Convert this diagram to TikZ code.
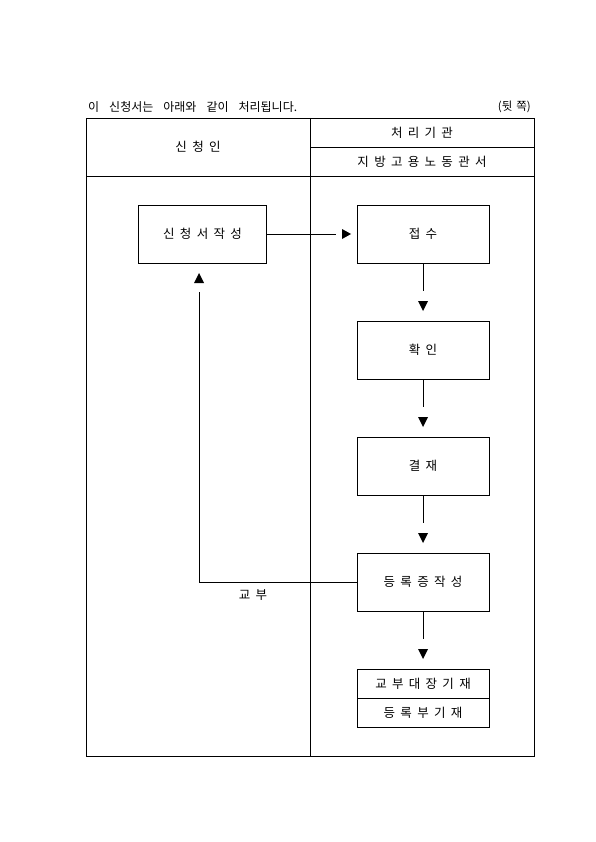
\documentclass[tikz,border=0pt]{standalone}
\usepackage{fontspec}
\newfontfamily\krfont{Noto Sans CJK KR}
\begin{document}
\begin{tikzpicture}[x=1pt,y=-1pt,
  frame/.style={line width=0.7pt},
  lbl/.style={font={\krfont\fontsize{12.5}{14}\selectfont\spaceskip=5.3pt\relax}, inner sep=0pt},
  ttl/.style={font={\krfont\fontsize{12}{14}\selectfont\spaceskip=10pt\relax}, inner sep=0pt},
  stepbox/.style={draw, line width=0.7pt, minimum width=132pt, minimum height=58pt, inner sep=0pt, font={\krfont\fontsize{12.5}{14}\selectfont\spaceskip=5.3pt\relax}},
  halfbox/.style={stepbox, minimum height=29pt},
  flow/.style={line width=0.7pt},
  head/.style={fill=black}
]
\useasboundingbox (0,0) rectangle (595,842);
% title line
\node[ttl, anchor=west] (title) at (88,107) {이 신청서는 아래와 같이 처리됩니다.};
\node[ttl, anchor=east, font={\krfont\fontsize{11.5}{13}\selectfont\spaceskip=4pt\relax}] (side) at (531,107) {(뒷 쪽)};
% table frame
\draw[frame] (86,118) rectangle (534,756);
\draw[frame] (310,118) -- (310,756);
\draw[frame] (86,176.5) -- (534,176.5);
\draw[frame] (310,147.3) -- (534,147.3);
\node[lbl] (hA) at (198,147) {신 청 인};
\node[lbl] (hB) at (422,133) {처 리 기 관};
\node[lbl] (hC) at (422,162) {지 방 고 용 노 동 관 서};
% boxes
\node[stepbox, minimum width=128.5pt] (apply) at (202.5,234) {신 청 서 작 성};
\node[stepbox] (recv) at (423,234) {접 수};
\node[stepbox] (check) at (423,350) {확 인};
\node[stepbox] (appr) at (423,466) {결 재};
\node[stepbox] (cert) at (423,582) {등 록 증 작 성};
\node[halfbox] (ledger) at (423,683.5) {교 부 대 장 기 재};
\node[halfbox] (reg) at (423,712.5) {등 록 부 기 재};
% connector ends and arrow heads
\coordinate (e1) at (336,234);
\coordinate (t1) at (351,234);
\coordinate (e2) at (423,291);
\coordinate (t2) at (423,311);
\coordinate (e3) at (423,407);
\coordinate (t3) at (423,427);
\coordinate (e4) at (423,523);
\coordinate (t4) at (423,543);
\coordinate (e5) at (423,639);
\coordinate (t5) at (423,659);
\coordinate (bend) at (199,582);
\coordinate (e6) at (199,292);
\coordinate (t6) at (199,273);
\draw[flow] (apply.east) -- (e1);
\fill[head] (t1) -- ++(-9,-5) -- ++(0,10) -- cycle;
\draw[flow] (recv.south) -- (e2);
\fill[head] (t2) -- ++(-5,-10) -- ++(10,0) -- cycle;
\draw[flow] (check.south) -- (e3);
\fill[head] (t3) -- ++(-5,-10) -- ++(10,0) -- cycle;
\draw[flow] (appr.south) -- (e4);
\fill[head] (t4) -- ++(-5,-10) -- ++(10,0) -- cycle;
\draw[flow] (cert.south) -- (e5);
\fill[head] (t5) -- ++(-5,-10) -- ++(10,0) -- cycle;
\draw[flow] (cert.west) -- (bend) -- (e6);
\fill[head] (t6) -- ++(-5,10) -- ++(10,0) -- cycle;
\node[lbl] (give) at (253,595) {교 부};
\end{tikzpicture}
\end{document}
